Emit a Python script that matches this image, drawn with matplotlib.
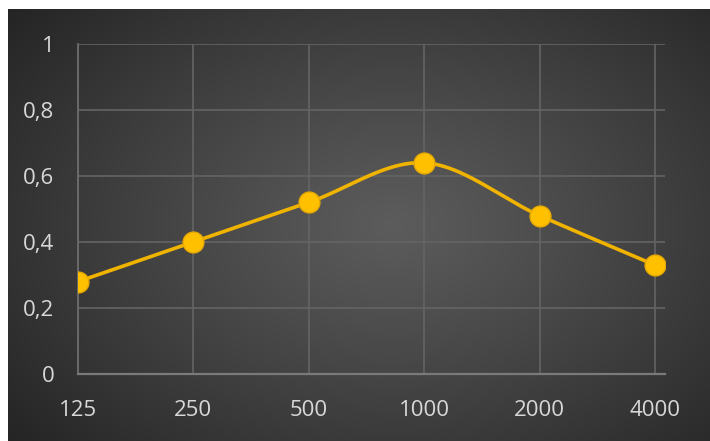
import matplotlib
matplotlib.use("Agg")
import matplotlib.pyplot as plt
import numpy as np

categories = ['125', '250', '500', '1000', '2000', '4000']
values = [0.28, 0.40, 0.52, 0.64, 0.48, 0.33]
y_ticks = [0, 0.2, 0.4, 0.6, 0.8, 1]
y_labels = ['0', '0,2', '0,4', '0,6', '0,8', '1']

plt.rcParams['font.family'] = ['Open Sans', 'DejaVu Sans']


def smooth(xs, ys, n=40):
    # Excel-like smoothed line: cubic bezier with catmull-rom control points
    pts = np.column_stack([xs, ys]).astype(float)
    out = []
    for i in range(len(pts) - 1):
        p0 = pts[max(i - 1, 0)]
        p1 = pts[i]
        p2 = pts[i + 1]
        p3 = pts[min(i + 2, len(pts) - 1)]
        c1 = p1 + (p2 - p0) / 6
        c2 = p2 - (p3 - p1) / 6
        t = np.linspace(0, 1, n)[:, None]
        seg = ((1 - t) ** 3) * p1 + 3 * ((1 - t) ** 2) * t * c1 + 3 * (1 - t) * t ** 2 * c2 + t ** 3 * p2
        out.append(seg if i == 0 else seg[1:])
    out = np.vstack(out)
    return out[:, 0], out[:, 1]


fig = plt.figure(figsize=(7.1, 4.41), dpi=100, facecolor='white')

# dark radial gradient background
bg = fig.add_axes([8 / 710, 0, 1 - 8 / 710, 1 - 9 / 441])
bg.set_axis_off()
gx, gy = np.meshgrid(np.linspace(0, 1, 400), np.linspace(0, 1, 250))
r = np.sqrt(((gx - 0.55) / 0.72) ** 2 + ((gy - 0.5) / 0.8) ** 2)
r = np.clip(r, 0, 1)
shade = 0.36 - (0.36 - 0.14) * r ** 1.1
bg.imshow(np.dstack([shade, shade, shade]), aspect='auto', extent=[0, 1, 0, 1])

ax = fig.add_axes([78 / 710, 1 - 374 / 441, (665 - 78) / 710, (374 - 44) / 441])
ax.patch.set_alpha(0)
x = np.arange(len(categories))
sx, sy = smooth(x, values)
ax.plot(sx, sy, color='#F0B400', linewidth=2.6, zorder=3)
ax.plot(x, values, linestyle='none', marker='o', markersize=15,
        markerfacecolor='#FFC000', markeredgecolor='#E6A800', markeredgewidth=1, zorder=4)

ax.set_xlim(0, 5 + 10 / 115.4)
ax.set_ylim(0, 1)
ax.set_xticks(x)
ax.set_xticklabels(categories)
ax.set_yticks(y_ticks)
ax.set_yticklabels(y_labels)
ax.grid(True, color='#646464', linewidth=1.2)
ax.set_axisbelow(True)
for s in ['top', 'right']:
    ax.spines[s].set_visible(False)
ax.spines['left'].set_color('#6c6c6c')
ax.spines['left'].set_linewidth(1.3)
ax.spines['bottom'].set_color('#7a7a7a')
ax.spines['bottom'].set_linewidth(1.6)
ax.tick_params(axis='both', length=0, colors='#d8d8d8', labelsize=16)
ax.tick_params(axis='y', pad=17)
ax.tick_params(axis='x', pad=19)

fig.savefig('out.png', dpi=100, facecolor='white')
